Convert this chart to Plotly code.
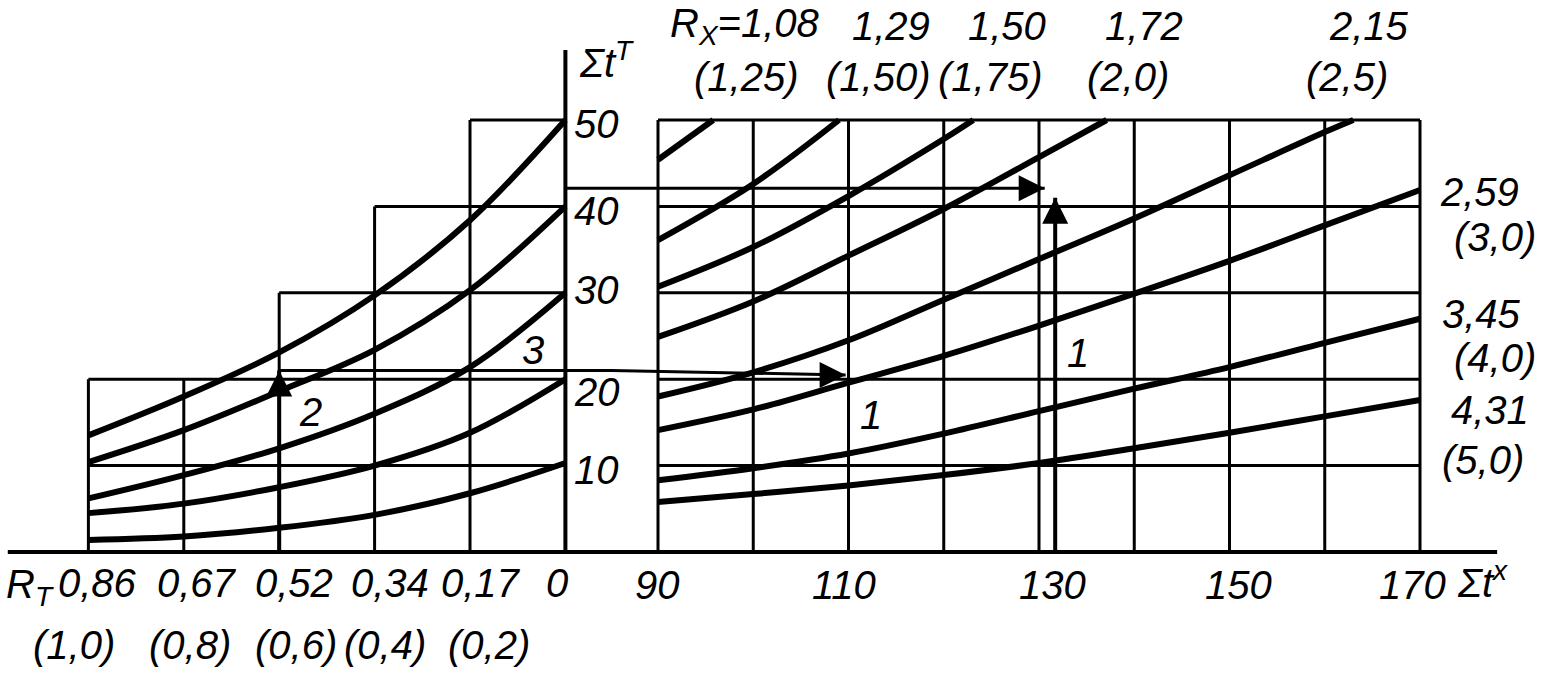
import plotly.graph_objects as go

# ---------------- data ----------------
# left block: abscissa is the (linear) parenthesised scale, printed labels give R_T
rt_pos = [1.0, 0.8, 0.6, 0.4, 0.2, 0.0]
rt_labels = ["0,86", "0,67", "0,52", "0,34", "0,17", "0"]
rt_paren = ["(1,0)", "(0,8)", "(0,6)", "(0,4)", "(0,2)"]
left_col_tops = [20, 20, 30, 40, 50]          # height of each grid column

left_curve_50 = [13.5, 18.0, 23.1, 29.7, 38.4, 50.0]
left_curve_40 = [10.4, 14.1, 18.6, 23.4, 30.3, 40.0]
left_curve_30 = [6.2, 8.9, 12.0, 16.0, 21.4, 30.0]
left_curve_20 = [4.5, 5.6, 7.5, 10.0, 13.8, 20.0]
left_curve_10 = [1.4, 1.8, 2.8, 4.3, 6.8, 10.3]

# vertical axis  (Σt^T)
st_ticks = [10, 20, 30, 40, 50]
st_tick_labels = ["10", "20", "30", "40", "50"]

# right block  (Σt^x)
sx_grid = [90, 100, 110, 120, 130, 140, 150, 160, 170]
sx_ticks = [90, 110, 130, 150, 170]
sx_tick_labels = ["90", "110", "130", "150", "170"]

rx_108_x = [90, 95.8]
rx_108_y = [45.4, 50.0]
rx_129_x = [90, 100, 109.0]
rx_129_y = [36.1, 42.6, 50.0]
rx_150_x = [90, 100, 110, 120, 123.1]
rx_150_y = [30.7, 35.3, 41.2, 47.8, 50.0]
rx_172_x = [90, 100, 110, 120, 130, 137.1]
rx_172_y = [24.9, 29.0, 34.3, 39.7, 45.7, 50.0]
rx_215_x = [90, 100, 110, 120, 130, 140, 150, 160, 163.0]
rx_215_y = [18.0, 20.8, 24.5, 29.2, 33.9, 38.6, 43.6, 48.6, 50.0]
rx_259_y = [14.1, 16.5, 19.6, 22.7, 26.2, 29.9, 33.7, 37.8, 41.9]
rx_345_y = [8.3, 9.7, 11.4, 13.7, 16.3, 18.9, 21.4, 24.2, 27.0]
rx_431_y = [5.8, 6.7, 7.7, 8.9, 10.3, 12.0, 13.8, 15.7, 17.6]

rx_labels = ["1,08", "1,29", "1,50", "1,72", "2,15", "2,59", "3,45", "4,31"]
rx_paren = ["(1,25)", "(1,50)", "(1,75)", "(2,0)", "(2,5)", "(3,0)", "(4,0)", "(5,0)"]

# worked examples (key lines)
ex2_rt, ex2_st, ex2_end_sx, ex2_end_st = 0.6, 21.0, 109.7, 20.5
ex1_st, ex1_end_sx, ex1_sx, ex1_top = 42.1, 130.6, 131.7, 41.0

# ---------------- geometry / style ----------------
W, H = 1552, 677
SPLIT = 611 / W
U_RANGE = [1.1853, -0.0956]
S_RANGE = [85.066, 183.858]
Y_RANGE = [-14.468, 63.889]
AXIS_LEFT_U = 1.169
AXIS_RIGHT_S = 178.1
Y_AXIS_TOP = 58.1

FONT = dict(family="Liberation Sans, Arial, sans-serif", size=40, color="black", style="italic")
BLACK = "black"
GRID_W = 3
CURVE_W = 6
AXIS_W = 4
KEY_W = 3
HEAD = 26

fig = go.Figure()


def line(xs, ys, xaxis, width, shape="linear"):
    fig.add_trace(go.Scatter(x=xs, y=ys, xaxis=xaxis, yaxis="y", mode="lines",
                             line=dict(color=BLACK, width=width, shape=shape, smoothing=1.0),
                             hoverinfo="skip", showlegend=False))


def head(x, y, xaxis, symbol):
    fig.add_trace(go.Scatter(x=[x], y=[y], xaxis=xaxis, yaxis="y", mode="markers",
                             marker=dict(symbol=symbol, size=HEAD, color=BLACK,
                                         line=dict(width=0)),
                             hoverinfo="skip", showlegend=False))


# left grid
gx, gy = [], []
for i, u in enumerate(rt_pos[:-1]):
    h = max(left_col_tops[i], left_col_tops[i - 1] if i > 0 else 0)
    gx += [u, u, None]
    gy += [0, h, None]
for lev in st_ticks:
    start = next(rt_pos[i] for i in range(len(left_col_tops)) if left_col_tops[i] >= lev)
    gx += [start, rt_pos[-1], None]
    gy += [lev, lev, None]
line(gx, gy, "x", GRID_W)

# right grid
gx, gy = [], []
for s in sx_grid:
    gx += [s, s, None]
    gy += [0, st_ticks[-1], None]
for lev in st_ticks:
    gx += [sx_grid[0], sx_grid[-1], None]
    gy += [lev, lev, None]
line(gx, gy, "x2", GRID_W)

# axes lines
line([AXIS_LEFT_U, U_RANGE[1]], [0, 0], "x", AXIS_W)
line([S_RANGE[0], AXIS_RIGHT_S], [0, 0], "x2", AXIS_W)
line([0, 0], [0, Y_AXIS_TOP], "x", AXIS_W)

# curves
for c in [left_curve_50, left_curve_40, left_curve_30, left_curve_20, left_curve_10]:
    line(rt_pos, c, "x", CURVE_W, "spline")
for xs, ys in [(rx_108_x, rx_108_y), (rx_129_x, rx_129_y), (rx_150_x, rx_150_y),
               (rx_172_x, rx_172_y), (rx_215_x, rx_215_y), (sx_grid, rx_259_y),
               (sx_grid, rx_345_y), (sx_grid, rx_431_y)]:
    line(xs, ys, "x2", CURVE_W, "spline")

# key lines with arrow heads
line([ex2_rt, ex2_rt], [0, ex2_st], "x", 4)
head(ex2_rt, ex2_st, "x", "arrow-up")
line([ex2_rt, U_RANGE[1]], [ex2_st, ex2_st], "x", KEY_W)
line([S_RANGE[0], ex2_end_sx], [ex2_st, ex2_end_st], "x2", KEY_W)
head(ex2_end_sx, ex2_end_st, "x2", "arrow-right")

line([0, U_RANGE[1]], [ex1_st, ex1_st], "x", KEY_W)
line([S_RANGE[0], ex1_end_sx], [ex1_st, ex1_st], "x2", KEY_W)
head(ex1_end_sx, ex1_st, "x2", "arrow-right")
line([ex1_sx, ex1_sx], [0, ex1_top], "x2", 4)
head(ex1_sx, ex1_top, "x2", "arrow-up")


def text(t, x, y, xref, xanchor="center", yanchor="middle", xshift=0, yshift=0, size=None):
    f = dict(FONT)
    if size:
        f["size"] = size
    fig.add_annotation(text=t, x=x, y=y, xref=xref, yref="y", showarrow=False,
                       xanchor=xanchor, yanchor=yanchor, xshift=xshift, yshift=yshift, font=f)


# bottom-left labels
row1_shift = [9, 13, 15, 15, 11, -8]
row2_shift = [-14, 6, 17, 10, 19]
for u, lab, sh in zip(rt_pos, rt_labels, row1_shift):
    text(lab, u, -3.6, "x", xshift=sh)
for u, lab, sh in zip(rt_pos, rt_paren, row2_shift):
    text(lab, u, -10.8, "x", xshift=sh)
text("R<sub>T</sub>", AXIS_LEFT_U, -4.0, "x", xanchor="left", xshift=-4)

# bottom-right labels
sx_shift = [-1, -5, 13, 9, -8]
for s, lab, sh in zip(sx_ticks, sx_tick_labels, sx_shift):
    text(lab, s, -3.8, "x2", xshift=sh)
text("Σt<sup>x</sup>", 173.7, -3.2, "x2", xanchor="left")

# vertical axis labels
st_yshift = [-4, -13, 3, -5, -4]
for v, lab, sh in zip(st_ticks, st_tick_labels, st_yshift):
    text(lab, 0, v, "x", xanchor="left", xshift=7, yshift=sh)
text("Σt<sup>T</sup>", 0, 56.9, "x", xanchor="left", xshift=12)

# curve labels (top)
top_x1 = [99.1, 114.5, 126.6, 141.0, 164.6]
top_x2 = [99.3, 113.1, 124.9, 139.3, 162.3]
for i in range(5):
    lab = ("R<sub>X</sub>=" + rx_labels[i]) if i == 0 else rx_labels[i]
    text(lab, top_x1[i], 60.9, "x2")
    text(rx_paren[i], top_x2[i], 55.0, "x2")
# curve labels (right)
side_x1 = [176.2, 176.5, 177.35]
side_y1 = [41.7, 27.6, 16.4]
side_x2 = [177.9, 177.9, 176.6]
side_y2 = [36.5, 22.5, 10.7]
for j in range(3):
    text(rx_labels[5 + j], side_x1[j], side_y1[j], "x2")
    text(rx_paren[5 + j], side_x2[j], side_y2[j], "x2")

# example markers
text("2", 0.535, 16.2, "x")
text("3", 0.067, 23.4, "x")
text("1", 112.4, 15.9, "x2")
text("1", 134.1, 23.0, "x2")

ax_common = dict(visible=False, showgrid=False, zeroline=False, fixedrange=True)
fig.update_layout(
    width=W, height=H, margin=dict(l=0, r=0, t=0, b=0),
    paper_bgcolor="white", plot_bgcolor="white", showlegend=False,
    xaxis=dict(domain=[0, SPLIT], range=U_RANGE, anchor="y", **ax_common),
    xaxis2=dict(domain=[SPLIT, 1], range=S_RANGE, anchor="y", **ax_common),
    yaxis=dict(domain=[0, 1], range=Y_RANGE, **ax_common),
)

fig.write_html("out.html", config={"displayModeBar": False},
               post_script="document.body.style.margin='0px';document.body.style.overflow='hidden';")
